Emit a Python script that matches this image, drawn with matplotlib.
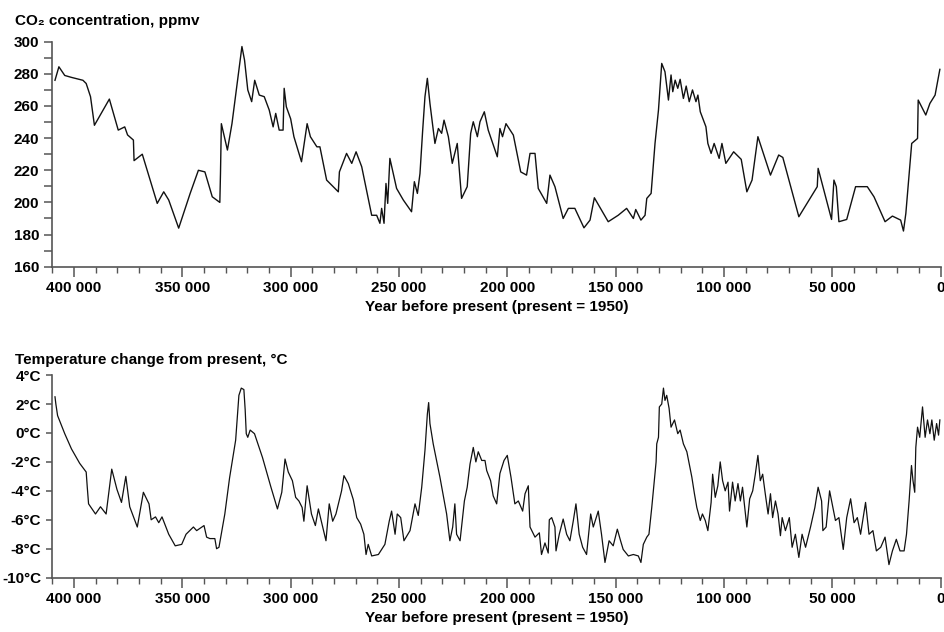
import matplotlib
matplotlib.use("Agg")
import matplotlib.pyplot as plt
from matplotlib.ticker import MultipleLocator, FuncFormatter

# Vostok ice core: CO2 (ppmv) by year before present
co2_years = [408800, 407000, 404300, 401200, 395900, 394400, 392400, 390600, 383700, 379600,
             376600, 375300, 372600, 372300, 368500, 361600, 358600, 356300, 351700, 346400,
             342600, 339600, 336200, 332700, 332400, 332000, 329200, 327100, 325100, 322500,
             321300, 319800, 318000, 316600, 314500, 312200, 309900, 308100, 306900, 305300,
             303500, 303000, 302000, 300000, 298500, 295000, 292400, 290900, 287900, 286500,
             283400, 278000, 277500, 274200, 271800, 269800, 267200, 262600, 260300, 258800,
             258000, 256900, 256000, 255200, 254200, 251100, 248000, 244200, 242900, 241500,
             240300, 239100, 238000, 236900, 235700, 233400, 231800, 230300, 229200, 227200,
             225400, 223100, 221100, 218500, 216900, 215700, 213800, 212600, 210600, 208800,
             204600, 203400, 202200, 200600, 197200, 193800, 191100, 189500, 187200, 185700,
             181800, 180300, 178000, 174200, 171800, 168800, 164600, 161800, 159800, 153400,
             148800, 144900, 141800, 140700, 138300, 136400, 135600, 133600, 131800, 130200,
             128700, 127200, 125600, 124400, 123600, 122500, 121300, 120200, 118700, 117400,
             116000, 114500, 112900, 112000, 110900, 108300, 107400, 105900, 104500, 102200,
             100900, 99100, 95500, 92000, 89400, 87000, 84300, 78500, 74700, 72800,
             65400, 56900, 56500, 50300, 49200, 48100, 46900, 43300, 39200, 33800,
             30700, 25600, 22200, 18400, 17100, 16000, 13300, 10600, 10300, 6800,
             4900, 2500, 300]
co2_ppmv = [276, 284.4, 279, 277.8, 276, 274, 265.8, 248, 264.3, 245,
            247, 242, 238.8, 226, 230, 199.4, 206.6, 201.5, 184, 205.6,
            220, 219, 203.5, 200, 218, 249, 232.6, 249, 270, 297,
            288.6, 270, 262.7, 276, 266.8, 265.8, 257.5, 247, 255.4, 245,
            245, 271, 259.5, 252, 240.9, 225.3, 249, 240.9, 234.6, 234.6,
            213.9, 206.6, 219, 230.5, 224.3, 231.5, 222.2, 192, 192, 187,
            196.3, 187, 211.8, 199.4, 227.4, 208.7, 201.5, 194.2, 212.9, 205.6,
            218, 244, 265.8, 277.2, 261.6, 236.7, 246, 243, 251.2, 240.9,
            224.3, 236.7, 202.5, 209.8, 243, 250.2, 240.9, 250.2, 256.4, 245,
            228.4, 246, 240.9, 249, 241.9, 219, 217, 230.5, 230.5, 208.7,
            199.4, 217, 209.8, 190, 196.3, 196.3, 184.2, 189, 202.9, 188,
            192, 196.3, 190, 195.6, 189, 192, 202.5, 205.6, 236.7, 257.5,
            286.5, 281.3, 263.7, 279.3, 268.9, 276.1, 271, 276.6, 264.7, 272.4,
            262.7, 270, 262.7, 266.8, 256.4, 247.1, 236.7, 230.5, 236.7, 227.4,
            236.7, 224.3, 231.5, 226.8, 206.6, 213.9, 240.9, 217, 229.5, 228,
            191.1, 209.8, 221.2, 189.4, 213.9, 209.8, 188, 189.4, 209.8, 209.8,
            203.5, 188, 191.5, 189, 182.2, 193.2, 236.7, 239.8, 263.7, 254.4,
            261.6, 266.8, 282.8]

# Temperature change from present (deg C)
temp_years = [408800, 408400, 407600, 404300, 401200, 397400, 394400, 393900, 393300, 390100,
              387800, 385200, 382600, 380200, 378100, 376100, 374300, 370800, 368000, 365400,
              364400, 362400, 360900, 359400, 356300, 353300, 350300, 348300, 344900, 343400,
              340000, 338800, 337300, 335000, 334200, 333100, 330400, 328200, 325400, 323900,
              322800, 321600, 321000, 320500, 319800, 318700, 316700, 313000, 309100, 306100,
              304100, 302600, 301100, 299200, 297700, 296200, 294700, 293900, 292400, 290400,
              288600, 287200, 285700, 283700, 282200, 280600, 279100, 276500, 275400, 273400,
              271100, 269500, 267700, 266200, 265200, 264200, 262600, 259500, 256500, 254500,
              253400, 251800, 250800, 249200, 247700, 244900, 242600, 241100, 239500, 238000,
              236900, 236300, 235700, 234200, 231100, 228000, 226500, 225200, 224200, 223400,
              221800, 219800, 218500, 217200, 215700, 214500, 213400, 211800, 210300, 209500,
              207700, 206500, 204900, 203400, 201500, 200000, 198300, 196500, 194900, 192900,
              191800, 190300, 189500, 187200, 185200, 184200, 182600, 181100, 180600, 179500,
              178000, 177500, 176000, 174200, 172600, 171100, 169500, 168300, 166800, 165200,
              163400, 161500, 160300, 158000, 156500, 154900, 153000, 151100, 149200, 147700,
              146500, 144100, 141800, 139500, 138300, 137200, 135600, 134600, 133300, 132100,
              131300, 131000, 130200, 129800, 128700, 127900, 127200, 126400, 125300, 124400,
              122800, 121300, 120200, 118700, 117100, 116000, 114800, 113600, 112500, 110900,
              109900, 108600, 107400, 105900, 105200, 104000, 102800, 101700, 100600, 99400,
              98100, 97400, 96000, 94800, 93500, 92400, 91400, 90400, 89400, 88100,
              86700, 85500, 84300, 83200, 82100, 80900, 79600, 78500, 77500, 76200,
              75000, 73900, 73100, 71600, 69800, 68500, 67000, 65400, 63900, 62300,
              60000, 58000, 56500, 54900, 54300, 52800, 51200, 50000, 48500, 46900,
              44900, 43300, 41500, 39900, 38400, 36900, 34600, 33000, 31200, 29600,
              27600, 25600, 23800, 22200, 20400, 18700, 16800, 15700, 14500, 13400,
              12700, 11900, 11400, 10600, 9600, 8300, 7100, 6000, 4900, 4000,
              2900, 1800, 900, 300]
temp_change = [2.5, 2.0, 1.2, -0.05, -1.1, -2.1, -2.7, -3.75, -4.9, -5.6,
               -5.1, -5.6, -2.5, -3.9, -4.8, -3.0, -5.1, -6.5, -4.1, -4.9,
               -6.0, -5.8, -6.2, -5.8, -7.0, -7.8, -7.7, -7.0, -6.5, -6.75,
               -6.4, -7.2, -7.3, -7.3, -8.0, -7.9, -5.6, -3.1, -0.5, 2.6,
               3.1, 3.0, 1.6, -0.05, -0.3, 0.2, -0.05, -1.7, -3.75, -5.25,
               -4.1, -1.8, -2.7, -3.3, -4.45, -4.7, -5.15, -6.1, -3.65, -5.6,
               -6.4, -5.25, -6.2, -7.45, -4.9, -6.1, -5.6, -4.0, -2.95, -3.5,
               -4.6, -5.85, -6.3, -7.0, -8.4, -7.7, -8.5, -8.4, -7.7, -6.1,
               -5.4, -7.0, -5.6, -5.85, -7.45, -6.75, -4.9, -5.7, -3.75, -1.2,
               1.3, 2.1, 0.65, -0.75, -3.05, -5.6, -7.45, -6.5, -4.9, -7.0,
               -7.45, -4.7, -3.75, -2.15, -1.0, -2.0, -1.3, -1.9, -1.9, -2.6,
               -3.3, -4.35, -4.9, -2.8, -1.9, -1.55, -3.05, -4.9, -4.7, -5.4,
               -4.2, -3.65, -6.5, -7.2, -6.9, -8.4, -7.6, -8.3, -6.0, -5.85,
               -6.5, -8.15, -7.0, -5.95, -7.0, -7.45, -6.05, -4.9, -7.0, -7.9,
               -8.4, -5.6, -6.5, -5.4, -7.0, -8.95, -7.45, -7.8, -6.65, -7.45,
               -8.05, -8.5, -8.4, -8.5, -8.95, -7.7, -7.2, -7.0, -5.15, -3.3,
               -2.0, -0.75, -0.3, 1.8, 2.0, 3.1, 2.25, 2.6, 1.7, 0.4,
               0.9, -0.05, 0.2, -0.75, -1.3, -2.15, -3.05, -4.2, -5.15, -6.05,
               -5.6, -6.05, -6.75, -4.8, -2.85, -4.45, -3.65, -2.0, -3.3, -4.0,
               -3.4, -5.4, -3.4, -4.7, -3.5, -4.7, -3.75, -5.15, -6.5, -4.55,
               -4.0, -2.85, -1.55, -3.3, -2.85, -4.2, -5.6, -4.2, -5.85, -4.7,
               -5.6, -7.1, -5.85, -6.75, -5.85, -7.9, -7.0, -8.6, -7.0, -7.9,
               -6.5, -5.15, -3.75, -4.7, -6.75, -6.5, -4.0, -4.9, -6.05, -5.85,
               -8.05, -5.85, -4.55, -6.2, -5.85, -7.0, -4.8, -7.0, -6.75, -8.15,
               -7.9, -7.2, -9.1, -8.15, -7.35, -8.15, -8.15, -7.0, -4.7, -2.25,
               -3.3, -4.1, -1.0, 0.4, -0.3, 1.8, -0.3, 0.9, -0.05, 0.9,
               -0.5, 0.65, -0.15, 0.9]

plt.rcParams["font.family"] = ["Liberation Sans", "DejaVu Sans"]
plt.rcParams["font.weight"] = "bold"

SPINE = "#555555"


def year_fmt(x, pos):
    return f"{int(round(x)):,}".replace(",", " ")


def style_axis(ax, ytick_len):
    for side in ["top", "right"]:
        ax.spines[side].set_visible(False)
    for side in ["left", "bottom"]:
        ax.spines[side].set_color(SPINE)
        ax.spines[side].set_linewidth(1.2)
    ax.set_xlim(410000, 0)
    ax.xaxis.set_major_locator(MultipleLocator(50000))
    ax.xaxis.set_minor_locator(MultipleLocator(10000))
    ax.xaxis.set_major_formatter(FuncFormatter(year_fmt))
    ax.tick_params(axis="x", which="major", length=7, width=1.1, color=SPINE, labelsize=11, pad=3)
    ax.tick_params(axis="x", which="minor", length=4, width=1.0, color=SPINE)
    ax.tick_params(axis="y", which="both", length=ytick_len, width=1.1, color=SPINE, labelsize=11, pad=3.5)
    ax.set_xlabel("Year before present (present = 1950)", fontsize=11, fontweight="bold", labelpad=4)


fig = plt.figure(figsize=(9.44, 6.32), dpi=100)
ax1 = fig.add_axes([0.0555, 0.578, 0.9408, 0.356])
ax2 = fig.add_axes([0.0555, 0.0860, 0.9408, 0.3205])

ax1.plot(co2_years, co2_ppmv, color="#111111", lw=1.0)
style_axis(ax1, 6)
ax1.set_ylim(160, 300)
ax1.yaxis.set_major_locator(MultipleLocator(20))
ax1.yaxis.set_minor_locator(MultipleLocator(10))
fig.text(0.016, 0.967, "CO₂ concentration, ppmv", fontsize=11, fontweight="bold", va="center")

ax2.plot(temp_years, temp_change, color="#111111", lw=0.9)
style_axis(ax2, 4.5)
ax2.set_ylim(-10, 4)
ax2.yaxis.set_major_locator(MultipleLocator(2))
ax2.yaxis.set_major_formatter(FuncFormatter(lambda v, p: f"{int(round(v))}°C"))
fig.text(0.016, 0.43, "Temperature change from present, °C", fontsize=11, fontweight="bold", va="center")

fig.savefig("out.png", dpi=100)
